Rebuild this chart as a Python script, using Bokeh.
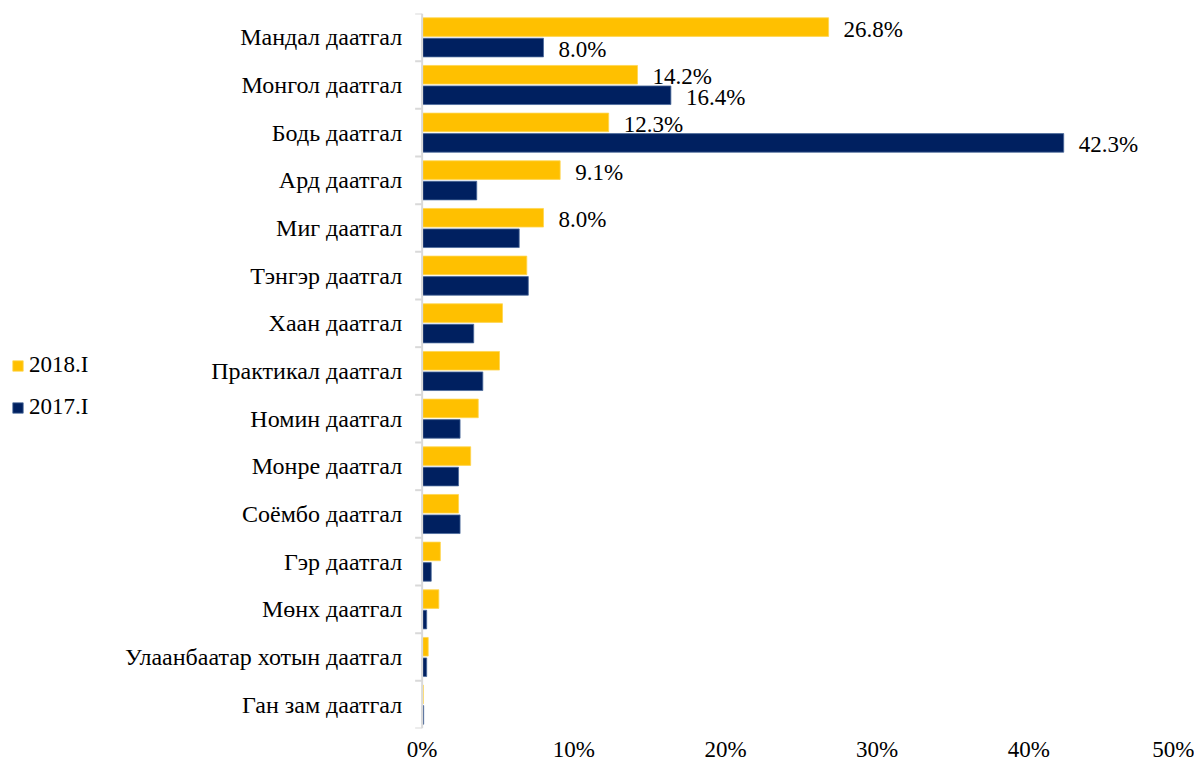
import math
from bokeh.plotting import figure
from bokeh.models import (Range1d, FixedTicker, Legend, LegendItem, ColumnDataSource,
                          PrintfTickFormatter, Span)
from bokeh.transform import dodge
from bokeh.embed import file_html
from bokeh.resources import INLINE
from bokeh.core.properties import value

categories = ["Мандал даатгал", "Монгол даатгал", "Бодь даатгал", "Ард даатгал",
              "Миг даатгал", "Тэнгэр даатгал", "Хаан даатгал", "Практикал даатгал",
              "Номин даатгал", "Монре даатгал", "Соёмбо даатгал", "Гэр даатгал",
              "Мөнх даатгал", "Улаанбаатар хотын даатгал", "Ган зам даатгал"]
share_2018 = [26.8, 14.2, 12.3, 9.1, 8.0, 6.9, 5.3, 5.1, 3.7, 3.2, 2.4, 1.2, 1.1, 0.4, 0.08]
share_2017 = [8.0, 16.4, 42.3, 3.6, 6.4, 7.0, 3.4, 4.0, 2.5, 2.4, 2.5, 0.6, 0.3, 0.3, 0.1]
n_labeled_2018 = 5
n_labeled_2017 = 3
x_ticks = [0, 10, 20, 30, 40, 50]
series_names = ["2018.I", "2017.I"]
colors = ["#FFC000", "#002060"]

FONT = "Liberation Serif"
FS = "23px"
FS_CAT = "24px"

n = len(categories)
pos = list(range(1, n + 1))
bounds = [i + 0.5 for i in range(n + 1)]
lab18 = [f"{v:.1f}%" if i < n_labeled_2018 else "" for i, v in enumerate(share_2018)]
lab17 = [f"{v:.1f}%" if i < n_labeled_2017 else "" for i, v in enumerate(share_2017)]
src = ColumnDataSource(dict(pos=pos, cat=categories, v18=share_2018, v17=share_2017,
                            lab18=lab18, lab17=lab17))

p = figure(width=1194, height=765, output_backend="svg", toolbar_location=None,
           x_range=Range1d(-27.8, 50), y_range=Range1d(n + 0.5, 0.5),
           min_border_left=0, min_border_right=14, min_border_top=13, min_border_bottom=37)
p.outline_line_color = None
p.grid.visible = False
p.background_fill_color = "white"
p.border_fill_color = "white"
p.yaxis.visible = False

off = 0.215
h = 0.39
r18 = p.hbar(y=dodge("pos", -off, range=p.y_range), left=0, right="v18", height=h,
             source=src, fill_color=colors[0], line_color="#FFD54F", line_width=0.8)
r17 = p.hbar(y=dodge("pos", off, range=p.y_range), left=0, right="v17", height=h,
             source=src, fill_color=colors[1], line_color="#4a6a9a", line_width=0.8)

# value labels
p.text(x="v18", y=dodge("pos", -off, range=p.y_range), text="lab18", source=src,
       x_offset=15, y_offset=2, text_baseline="middle", text_align="left",
       text_font=value(FONT), text_font_size=FS, text_color="black")
p.text(x="v17", y=dodge("pos", off, range=p.y_range), text="lab17", source=src,
       x_offset=15, y_offset=2, text_baseline="middle", text_align="left",
       text_font=value(FONT), text_font_size=FS, text_color="black")

# category axis at x = 0
p.add_layout(Span(location=0, dimension="height", line_color="#d9d9d9", line_width=2))
p.ray(x=0, y=bounds, length=7, length_units="screen", angle=math.pi,
      line_color="#d9d9d9", line_width=2)
p.text(x=0, y=pos, text=categories, x_offset=-20, text_align="right",
       text_baseline="middle", text_font=value(FONT), text_font_size=FS_CAT,
       text_color="black")

# x axis
xa = p.xaxis[0]
xa.ticker = FixedTicker(ticks=x_ticks)
xa.formatter = PrintfTickFormatter(format="%d%%")
xa.axis_line_color = None
xa.major_tick_line_color = None
xa.minor_tick_line_color = None
xa.major_label_standoff = 2
xa.major_label_text_font = FONT
xa.major_label_text_font_size = FS
xa.major_label_text_color = "black"

legend = Legend(items=[LegendItem(label=series_names[0], renderers=[r18]),
                       LegendItem(label=series_names[1], renderers=[r17])],
                location=(11, 308), glyph_width=13, glyph_height=13,
                label_text_font=FONT, label_text_font_size=FS, label_text_color="black",
                label_height=26, spacing=16, padding=0, margin=0, label_standoff=5,
                background_fill_alpha=0, border_line_color=None)
p.add_layout(legend, "center")

open("out.html", "w").write(file_html(p, INLINE))
